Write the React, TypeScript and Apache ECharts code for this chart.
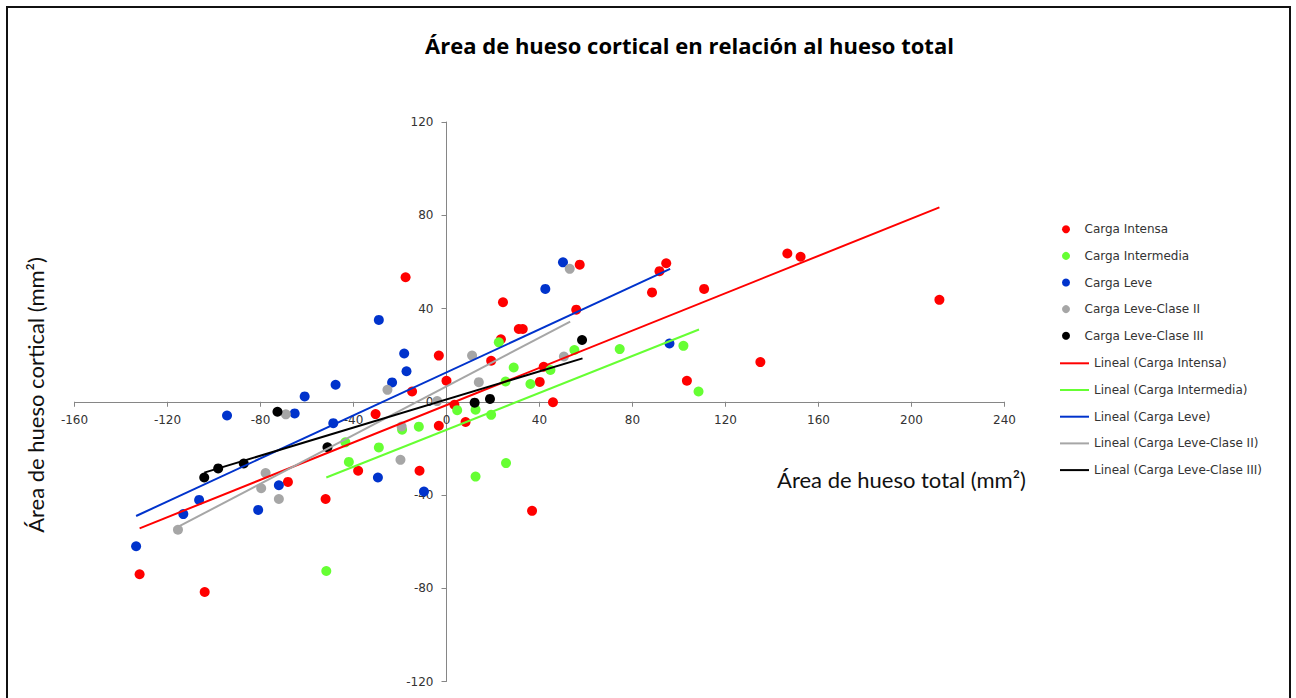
import React, { useEffect, useRef } from "react";
import * as echarts from "echarts";

// ---- Data ----
const seriesNames = [
  "Carga Intensa",
  "Carga Intermedia",
  "Carga Leve",
  "Carga Leve-Clase II",
  "Carga Leve-Clase III",
];
const trendNames = [
  "Lineal (Carga Intensa)",
  "Lineal (Carga Intermedia)",
  "Lineal (Carga Leve)",
  "Lineal (Carga Leve-Clase II)",
  "Lineal (Carga Leve-Clase III)",
];
const seriesColors = ["#FF0000", "#66FF33", "#0033CC", "#A6A6A6", "#000000"];

const cargaIntensa: number[][] = [
  [-17.6, 53.4], [-3.3, 19.8], [0, 9.0], [-14.8, 4.4], [-30.5, -5.3],
  [3.4, -1.3], [8.2, -8.7], [-3.3, -10.3], [-11.6, -29.6], [-38.0, -29.6],
  [-52.0, -41.7], [-68.2, -34.4], [-132.0, -74.0], [-104.0, -81.6], [19.2, 17.6],
  [23.4, 26.8], [24.3, 42.7], [31.1, 31.2], [32.8, 31.2], [40.1, 8.5],
  [41.8, 15.0], [45.8, -0.2], [36.8, -46.8], [55.8, 39.5], [57.3, 58.8],
  [88.4, 46.9], [91.6, 56.0], [94.5, 59.4], [110.8, 48.4], [103.4, 9.0],
  [135.0, 17.0], [146.6, 63.6], [152.3, 62.2], [212.0, 43.7],
];
const cargaIntermedia: number[][] = [
  [22.5, 25.5], [28.9, 14.7], [25.4, 8.7], [36.1, 7.6], [44.7, 13.6],
  [55.0, 22.2], [74.5, 22.6], [101.9, 24.0], [108.4, 4.4], [4.6, -3.6],
  [12.5, -3.4], [19.2, -5.6], [-11.9, -10.7], [-19.1, -12.0], [-29.1, -19.6],
  [-43.5, -17.4], [-42.0, -25.8], [12.5, -32.1], [25.6, -26.3], [-51.7, -72.6],
];
const cargaLeve: number[][] = [
  [-29.1, 35.1], [-18.2, 20.7], [-17.2, 13.1], [-23.4, 8.3], [-47.7, 7.3],
  [-61.0, 2.3], [-94.4, -5.9], [-65.3, -5.0], [-48.7, -9.2], [-29.5, -32.5],
  [-9.7, -38.5], [-72.1, -35.8], [-81.0, -46.4], [-106.4, -42.1], [-113.2, -48.2],
  [-133.5, -62.0], [42.5, 48.4], [50.1, 59.8], [95.9, 25.0],
];
const cargaLeveClaseII: number[][] = [
  [-25.4, 5.1], [-4.0, 0.3], [11.0, 19.8], [13.9, 8.4], [50.5, 19.4],
  [53.0, 57.0], [-69.1, -5.4], [-19.3, -10.6], [-19.8, -24.9], [-77.8, -30.6],
  [-79.7, -37.1], [-72.1, -41.7], [-115.5, -54.9],
];
const cargaLeveClaseIII: number[][] = [
  [-72.7, -4.3], [-51.2, -19.5], [-87.2, -26.5], [-98.2, -28.6], [-104.2, -32.5],
  [12.1, -0.4], [18.7, 1.2], [58.3, 26.5],
];

// Trend line end points (as drawn in the reference)
const trendIntensa: number[][] = [[-132.0, -54.3], [212.0, 83.4]];
const trendIntermedia: number[][] = [[-51.7, -32.5], [108.6, 31.0]];
const trendLeve: number[][] = [[-133.5, -49.0], [96.2, 57.0]];
const trendLeveClaseII: number[][] = [[-115.5, -53.7], [53.2, 34.4]];
const trendLeveClaseIII: number[][] = [[-104.2, -30.4], [58.5, 18.6]];

const xTicks = { min: -160, max: 240, interval: 40 };
const yTicks = { min: -120, max: 120, interval: 40 };

const titleText = "Área de hueso cortical en relación al hueso total";
const xAxisTitle = "Área de hueso total (mm²)";
const yAxisTitle = "Área de hueso cortical (mm²)";

const scatterData = [cargaIntensa, cargaIntermedia, cargaLeve, cargaLeveClaseII, cargaLeveClaseIII];
const trendData = [trendIntensa, trendIntermedia, trendLeve, trendLeveClaseII, trendLeveClaseIII];

export default function App() {
  const ref = useRef<HTMLDivElement>(null);
  useEffect(() => {
    document.body.style.margin = "0";
    const chart = echarts.init(ref.current!, undefined, { renderer: "svg" });
    const W = 1296;
    const H = 698;
    const grid = { left: 74.5, right: 291.5, top: 122, bottom: 16.5 };
    const gw = W - grid.left - grid.right;
    const gh = H - grid.top - grid.bottom;
    // axes cross at zero: shift each axis from its grid edge to the zero position
    const xAxisOffset = -gh * (0 - yTicks.min) / (yTicks.max - yTicks.min);
    const yAxisOffset = -gw * (0 - xTicks.min) / (xTicks.max - xTicks.min);

    const tickFont = { fontFamily: "DejaVu Sans", fontSize: 12, color: "#333333" };
    const scatterSeries = seriesNames.map((name, i) => ({
      name,
      type: "scatter",
      data: scatterData[i],
      symbol: "circle",
      symbolSize: 10,
      itemStyle: { color: seriesColors[i], opacity: 1 },
      z: 2,
    }));
    const lineSeries = trendNames.map((name, i) => ({
      name,
      type: "line",
      data: trendData[i],
      symbol: "none",
      showSymbol: false,
      itemStyle: { color: seriesColors[i] },
      lineStyle: { color: seriesColors[i], width: 2 },
      z: 3,
    }));
    const option = {
      animation: false,
      backgroundColor: "#ffffff",
      grid: { ...grid, containLabel: false },
      xAxis: {
        type: "value",
        position: "bottom",
        offset: xAxisOffset,
        min: xTicks.min,
        max: xTicks.max,
        interval: xTicks.interval,
        axisLine: { show: true, onZero: false, lineStyle: { color: "#868686", width: 1 } },
        axisTick: { show: true, length: 5, lineStyle: { color: "#868686" } },
        axisLabel: { ...tickFont, margin: 12 },
        splitLine: { show: false },
      },
      yAxis: {
        type: "value",
        position: "left",
        offset: yAxisOffset,
        min: yTicks.min,
        max: yTicks.max,
        interval: yTicks.interval,
        axisLine: { show: true, onZero: false, lineStyle: { color: "#868686", width: 1 } },
        axisTick: { show: true, length: 5, lineStyle: { color: "#868686" } },
        axisLabel: { ...tickFont, margin: 13 },
        splitLine: { show: false },
      },
      legend: [
        {
          data: seriesNames.map((n) => ({ name: n, icon: "circle" })),
          orient: "vertical",
          left: 1062,
          top: 222.3,
          padding: 0,
          itemWidth: 27,
          itemHeight: 8,
          itemGap: 12.6,
          selectedMode: false,
          textStyle: { fontFamily: "DejaVu Sans", fontSize: 12, color: "#333333", lineHeight: 14 },
        },
        {
          data: trendNames.map((n) => ({ name: n, icon: "rect" })),
          orient: "vertical",
          left: 1060,
          top: 356.3,
          padding: 0,
          itemWidth: 29,
          itemHeight: 2,
          itemGap: 12.7,
          selectedMode: false,
          textStyle: { fontFamily: "DejaVu Sans", fontSize: 12, color: "#333333", lineHeight: 14 },
        },
      ],
      graphic: [
        {
          type: "rect",
          shape: { x: 7, y: 7, width: 1283, height: 740 },
          style: { fill: "none", stroke: "#111111", lineWidth: 2 },
          silent: true,
        },
        {
          type: "text",
          x: 689.5,
          y: 44.5,
          style: {
            text: titleText,
            font: "bold 22px 'Open Sans'",
            fill: "#000000",
            textAlign: "center",
            textVerticalAlign: "middle",
          },
        },
        {
          type: "text",
          x: 901.5,
          y: 479,
          style: {
            text: xAxisTitle,
            font: "22px Lato",
            fill: "#111111",
            textAlign: "center",
            textVerticalAlign: "middle",
          },
        },
        {
          type: "text",
          x: 35,
          y: 395,
          rotation: Math.PI / 2,
          style: {
            text: yAxisTitle,
            font: "22px Lato",
            fill: "#111111",
            textAlign: "center",
            textVerticalAlign: "middle",
          },
        },
      ],
      series: [...scatterSeries, ...lineSeries],
    };
    chart.setOption(option as any);
    return () => chart.dispose();
  }, []);
  return (
    <div
      ref={ref}
      style={{ position: "fixed", left: 0, top: 0, width: 1296, height: 698 }}
    />
  );
}
